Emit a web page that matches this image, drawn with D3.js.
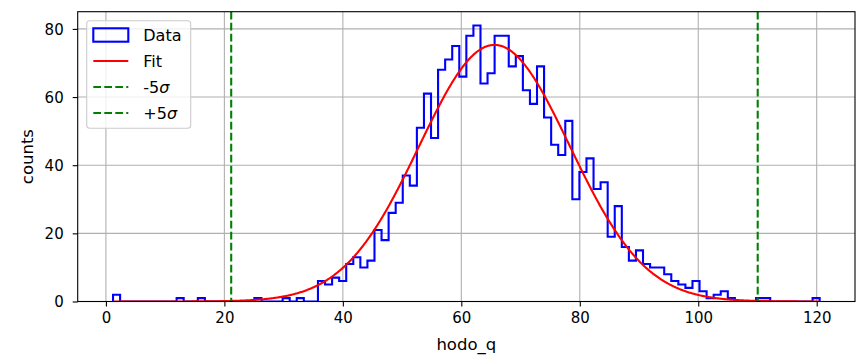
<!DOCTYPE html>
<html><head><meta charset="utf-8">
<script src="https://cdn.jsdelivr.net/npm/d3@7"></script>
<style>body{margin:0;background:#fff} text{font-family:"DejaVu Sans",sans-serif;fill:#000}</style>
</head><body><svg id="c" width="856" height="357"></svg>
<script>
// ---- data ----
const binMin = 1.2, binMax = 120.5, nBins = 100;
const counts = [
 2,0,0,0,0,0,0,0,0,1,
 0,0,1,0,0,0,0,0,0,0,
 1,0,0,0,1,0,1,0,0,6,
 5,7,6,11,13,10,12,21,18,26,
 29,37,34,51,61,48,68,71,75,66,
 78,81,64,67,78,78,69,72,62,58,
 69,54,46,43,53,30,38,42,33,35,
 19,28,16,12,15,11,10,10,8,6,
 5,4,6,3,1,2,3,1,0,0,
 0,1,1,0,0,0,0,0,0,1];
const fitAmp = 75.3, fitMu = 65.6, fitSigma = 12.7;
const sigmaLineX = [21.15, 110.04];
const legendLabels = ["Data", "Fit", "-5", "+5"];
const xTicks = [0,20,40,60,80,100,120];
const yTicks = [0,20,40,60,80];

// ---- layout ----
const L = 77.7, R = 855, T = 11.7, B = 301.5;
const svg = d3.select("#c");
const edges = d3.range(nBins + 1).map(i => binMin + i * (binMax - binMin) / nBins);
const span = binMax - binMin;
const x = d3.scaleLinear().domain([binMin - 0.05 * span, binMax + 0.05 * span]).range([L, R]);
const yMax = Math.max(d3.max(counts), fitAmp) * 1.05;
const y = d3.scaleLinear().domain([0, yMax]).range([B, T]);

svg.append("defs").append("clipPath").attr("id", "clip")
  .append("rect").attr("x", L).attr("y", T).attr("width", R - L).attr("height", B - T);

// grid
const g = svg.append("g");
g.selectAll(".gx").data(xTicks).join("line")
  .attr("x1", d => x(d)).attr("x2", d => x(d)).attr("y1", T).attr("y2", B)
  .attr("stroke", "#b0b0b0").attr("stroke-width", 1.1);
g.selectAll(".gy").data(yTicks).join("line")
  .attr("y1", d => y(d)).attr("y2", d => y(d)).attr("x1", L).attr("x2", R)
  .attr("stroke", "#b0b0b0").attr("stroke-width", 1.1);

const plot = svg.append("g").attr("clip-path", "url(#clip)");

// histogram step outline
const pts = [[edges[0], 0]];
counts.forEach((c, i) => { pts.push([edges[i], c]); pts.push([edges[i + 1], c]); });
pts.push([edges[nBins], 0]);
plot.append("path").attr("d", d3.line().x(d => x(d[0])).y(d => y(d[1]))(pts))
  .attr("fill", "none").attr("stroke", "#0000ff").attr("stroke-width", 2.1)
  .attr("stroke-linejoin", "miter");

// fit curve
const fx = d3.range(0, 1001).map(i => binMin + i * span / 1000);
const gauss = v => fitAmp * Math.exp(-0.5 * ((v - fitMu) / fitSigma) ** 2);
plot.append("path").attr("d", d3.line().x(d => x(d)).y(d => y(gauss(d)))(fx))
  .attr("fill", "none").attr("stroke", "#ff0000").attr("stroke-width", 2.1);

// sigma lines
plot.selectAll(".vl").data(sigmaLineX).join("line")
  .attr("x1", d => x(d)).attr("x2", d => x(d)).attr("y1", T).attr("y2", B)
  .attr("stroke", "#008000").attr("stroke-width", 2.1).attr("stroke-dasharray", "7.7,3.3");

// axes
const xAxis = d3.axisBottom(x).tickValues(xTicks).tickSize(5).tickPadding(6).tickFormat(d3.format("d"));
const yAxis = d3.axisLeft(y).tickValues(yTicks).tickSize(5).tickPadding(9).tickFormat(d3.format("d"));
const ax = svg.append("g").attr("transform", `translate(0,${B})`).call(xAxis);
const ay = svg.append("g").attr("transform", `translate(${L},0)`).call(yAxis);
[ax, ay].forEach(a => {
  a.select(".domain").remove();
  a.selectAll(".tick line").attr("stroke", "#000").attr("stroke-width", 1.1);
  a.selectAll(".tick text").style("font-family", "DejaVu Sans").style("font-size", "15px").attr("fill", "#000");
});
ay.selectAll(".tick text").attr("dy", "0.36em");
svg.append("rect").attr("x", L).attr("y", T).attr("width", R - L).attr("height", B - T)
  .attr("fill", "none").attr("stroke", "#000").attr("stroke-width", 1.1);

// axis labels
svg.append("text").attr("x", (L + R) / 2).attr("y", 350).attr("text-anchor", "middle")
  .style("font-size", "16.5px").text("hodo_q");
svg.append("text").attr("transform", `translate(33,${(T + B) / 2}) rotate(-90)`)
  .attr("text-anchor", "middle").style("font-size", "16.5px").text("counts");

// legend
const lg = svg.append("g");
lg.append("rect").attr("x", 86.7).attr("y", 20.7).attr("width", 104).attr("height", 107.6)
  .attr("rx", 3).attr("fill", "#fff").attr("fill-opacity", 0.8)
  .attr("stroke", "#cccccc").attr("stroke-width", 1.1);
const rowY = [35, 61, 87, 113];
lg.append("rect").attr("x", 93.3).attr("y", rowY[0] - 6.7).attr("width", 35).attr("height", 13.4)
  .attr("fill", "none").attr("stroke", "#0000ff").attr("stroke-width", 2.1);
lg.append("line").attr("x1", 93.3).attr("x2", 128.3).attr("y1", rowY[1]).attr("y2", rowY[1])
  .attr("stroke", "#ff0000").attr("stroke-width", 2.1);
[2, 3].forEach(i => lg.append("line").attr("x1", 93.3).attr("x2", 128.3).attr("y1", rowY[i]).attr("y2", rowY[i])
  .attr("stroke", "#008000").attr("stroke-width", 2.1).attr("stroke-dasharray", "7.7,3.3"));
legendLabels.forEach((t, i) => {
  const tx = lg.append("text").attr("x", 143.3).attr("y", rowY[i]).attr("dy", "0.36em").style("font-size", "16px");
  tx.append("tspan").text(t);
  if (i >= 2) tx.append("tspan").style("font-style", "italic").text("σ");
});
</script></body></html>
